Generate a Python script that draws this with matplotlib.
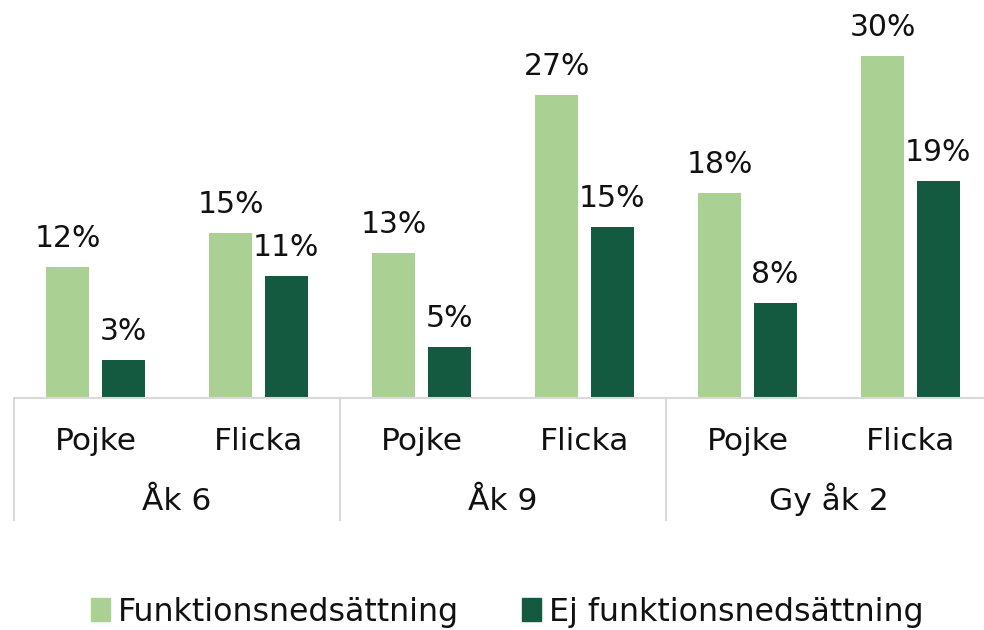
import matplotlib
matplotlib.use("Agg")
import matplotlib.pyplot as plt
from matplotlib.transforms import blended_transform_factory
from matplotlib.patches import Patch
import numpy as np

categories = ["Pojke", "Flicka", "Pojke", "Flicka", "Pojke", "Flicka"]
groups = ["Åk 6", "Åk 9", "Gy åk 2"]
series_names = ["Funktionsnedsättning", "Ej funktionsnedsättning"]
funk = [11.6, 14.6, 12.8, 26.8, 18.1, 30.3]
ej_funk = [3.4, 10.8, 4.5, 15.1, 8.4, 19.2]

c_light = "#AAD193"
c_dark = "#145A41"
grid_c = "#D9D9D9"
FS = 21.5
FS_CAT = 22.5
FS_LEG = 22.8
TXT = "#111111"

W, H = 984, 630
fig = plt.figure(figsize=(W / 100, H / 100), dpi=100)
base_px = 398
ax = fig.add_axes([14 / W, (H - base_px) / H, 978 / W, base_px / H])
ax.set_ylim(0, base_px / 11.3)
ax.set_xlim(-0.5, len(categories) - 0.5)

x = np.arange(len(categories))
bw = 0.264
off = 0.169
b1 = ax.bar(x - off, funk, bw, color=c_light, label=series_names[0])
b2 = ax.bar(x + off, ej_funk, bw, color=c_dark, label=series_names[1])

def lab(v):
    return f"{int(v + 0.5)}%"

for bars, vals in ((b1, funk), (b2, ej_funk)):
    for r, v in zip(bars, vals):
        ax.annotate(lab(v), (r.get_x() + r.get_width() / 2, v),
                    xytext=(0, 14.4), textcoords="offset points",
                    ha="center", va="baseline", fontsize=FS, color=TXT)

for s in ["top", "right", "left"]:
    ax.spines[s].set_visible(False)
ax.spines["bottom"].set_color(grid_c)
ax.spines["bottom"].set_linewidth(1.5)
ax.set_yticks([])
ax.set_xticks([])

trans = blended_transform_factory(ax.transData, ax.transAxes)
for xi, c in zip(x, categories):
    ax.annotate(c, (xi, 0), xycoords=trans, xytext=(0, -52 * 0.72),
                textcoords="offset points", ha="center", va="baseline",
                fontsize=FS_CAT, color=TXT, annotation_clip=False)
for gi, g in enumerate(groups):
    ax.annotate(g, (2 * gi + 0.5, 0), xycoords=trans, xytext=(0, -112 * 0.72),
                textcoords="offset points", ha="center", va="baseline",
                fontsize=FS_CAT, color=TXT, annotation_clip=False)

tf = blended_transform_factory(ax.transData, fig.transFigure)
for bx in [-0.5, 1.5, 3.5, 5.5]:
    ax.plot([bx, bx], [(H - base_px) / H, (H - 520) / H], transform=tf,
            color=grid_c, lw=1.5, clip_on=False)

handles = [Patch(color=c_light), Patch(color=c_dark)]
leg = fig.legend(handles, series_names, loc="center",
                 bbox_to_anchor=(507 / W, 18 / H), ncol=2, frameon=False,
                 fontsize=FS_LEG, handlelength=0.6, handleheight=0.7,
                 handletextpad=0.25, columnspacing=2.0)
for t in leg.get_texts():
    t.set_color(TXT)

fig.savefig("out.png", dpi=100)
